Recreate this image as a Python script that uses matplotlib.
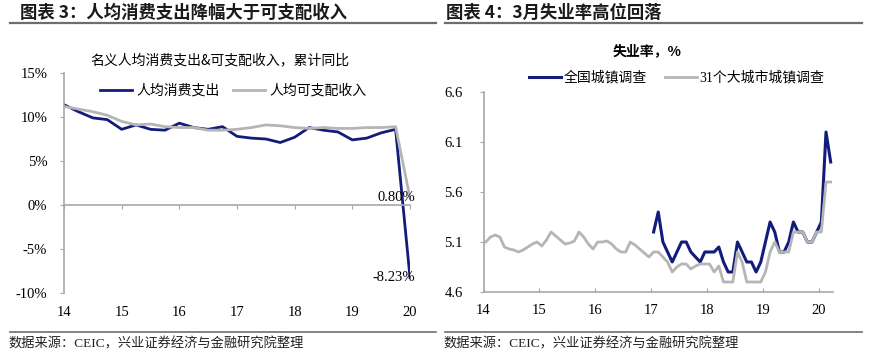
#!/usr/bin/env python3
"""Two-panel chart: per-capita spending vs income growth, and surveyed unemployment rate."""

import matplotlib

matplotlib.use("Agg")
import matplotlib.pyplot as plt
from matplotlib.lines import Line2D

plt.rcParams["font.family"] = ["Liberation Serif", "Noto Sans CJK SC", "DejaVu Sans"]

CJK = ["Noto Sans CJK SC", "DejaVu Sans"]
MIXED = ["Liberation Serif", "Noto Sans CJK SC", "DejaVu Sans"]
NAVY = "#121c7a"
GRAY = "#b5b5b5"
AXIS_GRAY = "#a8a8a8"

# --- left panel: quarterly cumulative yoy, 2014Q1 .. 2020Q1 (%)
spend_name = "人均消费支出"
income_name = "人均可支配收入"
spend_yoy = [11.4, 10.6, 9.9, 9.7, 8.6, 9.1, 8.6, 8.5, 9.3, 8.8, 8.6, 8.9,
             7.8, 7.6, 7.5, 7.1, 7.7, 8.8, 8.5, 8.3, 7.4, 7.6, 8.2, 8.6, -8.23]
income_yoy = [11.2, 10.9, 10.6, 10.2, 9.5, 9.1, 9.2, 8.9, 8.8, 8.8, 8.5, 8.5,
              8.6, 8.8, 9.1, 9.0, 8.8, 8.7, 8.8, 8.7, 8.7, 8.8, 8.8, 8.9, 0.8]
year_labels = ["14", "15", "16", "17", "18", "19", "20"]
left_yticks = [-10, -5, 0, 5, 10, 15]

# --- right panel: monthly unemployment rate, 2014-01 .. 2020-03 (%)
national_name = "全国城镇调查"
cities_name = "31个大城市城镇调查"
national_start = 36  # series starts 2017-01
national_rate = [5.2, 5.4, 5.1, 5.0, 4.9, 5.0, 5.1, 5.1, 5.0, 4.95, 4.9, 5.0,
                 5.0, 5.0, 5.05, 4.9, 4.8, 4.8, 5.1, 5.0, 4.9, 4.9, 4.8, 4.9,
                 5.1, 5.3, 5.2, 5.0, 5.0, 5.1, 5.3, 5.2, 5.2, 5.1, 5.1, 5.2,
                 5.3, 6.2, 5.9]
cities_rate = [5.1, 5.15, 5.17, 5.15, 5.05, 5.03, 5.02, 5.0, 5.02, 5.05, 5.08, 5.1,
               5.06, 5.12, 5.2, 5.16, 5.12, 5.08, 5.09, 5.11, 5.2, 5.15, 5.08, 5.03,
               5.1, 5.1, 5.11, 5.08, 5.03, 5.0, 5.0, 5.1, 5.07, 5.03, 4.99, 4.95,
               5.0, 5.0, 4.95, 4.9, 4.8, 4.85, 4.88, 4.88, 4.83, 4.86, 4.88, 4.88,
               4.88, 4.8, 4.86, 4.7, 4.7, 4.7, 5.0, 4.9, 4.7, 4.7, 4.7, 4.7,
               4.8, 5.0, 5.1, 5.0, 5.0, 5.0, 5.2, 5.2, 5.2, 5.1, 5.1, 5.2,
               5.2, 5.7, 5.7]
right_yticks = [4.6, 5.1, 5.6, 6.1, 6.6]

W, H = 874, 354
fig = plt.figure(figsize=(W / 100, H / 100), dpi=100)


def fx(px):
    return px / W


def fy(py):
    return 1 - py / H


def hline(x0, x1, y, lw=1.6):
    fig.add_artist(Line2D([fx(x0), fx(x1)], [fy(y), fy(y)], color="#6e6e6e", lw=lw))


# titles, separators, sources
fig.text(fx(20), fy(13), "图表 3：人均消费支出降幅大于可支配收入", family=CJK,
         fontsize=12.5, fontweight="bold", va="center", ha="left", color="#1a1a1a")
fig.text(fx(446), fy(13), "图表 4：3月失业率高位回落", family=CJK,
         fontsize=12.5, fontweight="bold", va="center", ha="left", color="#1a1a1a")
hline(10, 436, 23)
hline(445, 862, 23)
hline(10, 436, 332, lw=1.2)
hline(445, 862, 332, lw=1.2)
for x in (8, 443):
    fig.text(fx(x), fy(344), "数据来源：CEIC，兴业证券经济与金融研究院整理", family=MIXED,
             fontsize=9.5, va="center", ha="left", color="#222222")

# ---------------- left panel
ax = fig.add_axes([fx(64), fy(293), fx(410 - 64), (293 - 73) / H])
q = list(range(len(spend_yoy)))
ax.plot(q, spend_yoy, color=NAVY, lw=2.0, label=spend_name, solid_joinstyle="round")
ax.plot(q, income_yoy, color=GRAY, lw=2.0, label=income_name, solid_joinstyle="round")
ax.set_xlim(0, len(q) - 1)
ax.set_ylim(-10, 15)
ax.set_yticks(left_yticks, [f"{v}%" for v in left_yticks])
for side in ("top", "right"):
    ax.spines[side].set_visible(False)
ax.spines["bottom"].set_position(("data", 0))
for side in ("left", "bottom"):
    ax.spines[side].set_color(AXIS_GRAY)
    ax.spines[side].set_linewidth(1.2)
ax.set_xticks(range(0, len(q), 4))
ax.tick_params(axis="x", labelbottom=False, direction="out", length=3, color=AXIS_GRAY)
ax.tick_params(axis="y", direction="out", length=3, color=AXIS_GRAY, labelsize=10.5, pad=9)
sec = ax.secondary_xaxis("bottom")
sec.set_xticks(range(0, len(q), 4), year_labels)
sec.spines["bottom"].set_visible(False)
sec.tick_params(length=0, labelsize=10.5, pad=9)
for val in (income_yoy[-1], spend_yoy[-1]):
    ax.annotate(f"{val:.2f}%", xy=(q[-1], val), xytext=(5, 0), textcoords="offset pixels",
                ha="right", va="center", fontsize=10.5)
fig.text(fx(220), fy(60), "名义人均消费支出&可支配收入，累计同比", family=CJK,
         fontsize=10, ha="center", va="center")
ax.legend(loc="center left", bbox_to_anchor=(fx(100), fy(91)), bbox_transform=fig.transFigure,
          ncol=2, frameon=False, prop={"family": CJK, "size": 10}, handlelength=2.3,
          handletextpad=0.35, columnspacing=0.9, borderpad=0, borderaxespad=0)

# ---------------- right panel
ax2 = fig.add_axes([fx(483.5), fy(292), fx(833 - 483.5), (292 - 92) / H])
months = [i + 0.5 for i in range(len(cities_rate))]
ax2.plot(months[national_start:], national_rate, color=NAVY, lw=2.2, label=national_name,
         solid_joinstyle="round")
ax2.plot(months, cities_rate, color=GRAY, lw=2.0, label=cities_name, solid_joinstyle="round")
ax2.set_xlim(0, len(cities_rate))
ax2.set_ylim(4.6, 6.6)
ax2.set_yticks(right_yticks, [f"{v:.1f}" for v in right_yticks])
ax2.set_xticks(range(0, len(cities_rate), 12), year_labels)
for side in ("top", "right"):
    ax2.spines[side].set_visible(False)
for side in ("left", "bottom"):
    ax2.spines[side].set_color(AXIS_GRAY)
    ax2.spines[side].set_linewidth(1.2)
ax2.tick_params(axis="x", direction="in", length=3, color=AXIS_GRAY, labelsize=10.5, pad=9)
ax2.tick_params(axis="y", direction="out", length=3, color=AXIS_GRAY, labelsize=10.5, pad=12)
fig.text(fx(647), fy(51), "失业率，%", family=CJK, fontsize=10, fontweight="bold",
         ha="center", va="center")
ax2.legend(loc="center left", bbox_to_anchor=(fx(529), fy(78)), bbox_transform=fig.transFigure,
           ncol=2, frameon=False, prop={"family": MIXED, "size": 10}, handlelength=2.3,
           handletextpad=0.2, columnspacing=1.3, borderpad=0, borderaxespad=0)

fig.savefig("out.png", dpi=100)
plt.close(fig)
